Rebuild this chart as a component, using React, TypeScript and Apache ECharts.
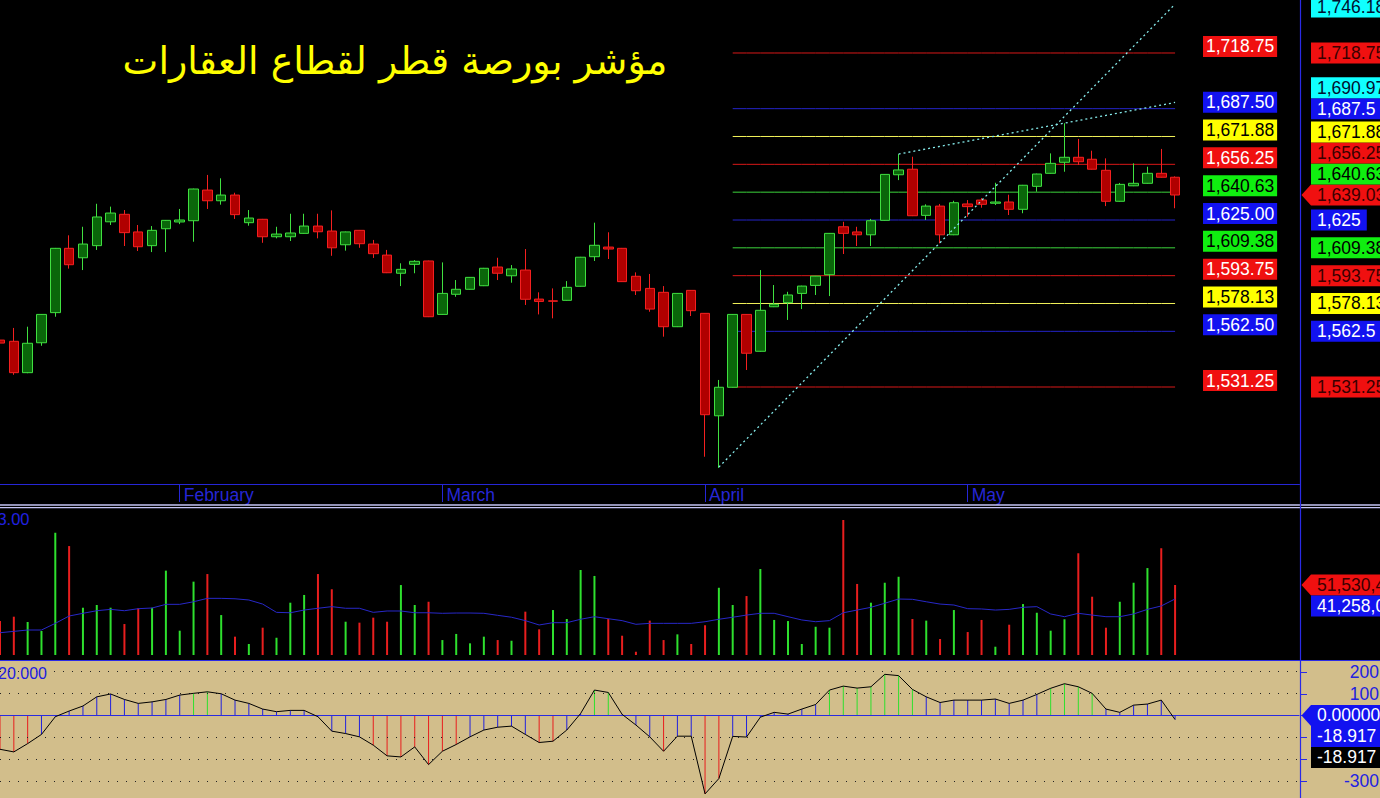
import React, { useEffect, useRef } from "react";
import * as echarts from "echarts";

// ---------------- DATA ----------------
const slotCount = 95; // trading-day slots on the time axis (last ones empty)
const categories: string[] = Array.from({ length: slotCount }, (_, i) => `D${i + 1}`);

const monthNames = ["February", "March", "April", "May"];
const monthStartIndex = [13, 32, 51, 70];

const chartTitle = "مؤشر بورصة قطر لقطاع العقارات";

// [open, close, low, high]
const candles: number[][] = [
  [1557.6, 1555.9, 1554.8, 1558.8], [1556.9, 1539.3, 1538.1, 1564.4], [1539.3, 1555.8, 1539.0, 1565.1],
  [1556.1, 1572.0, 1554.4, 1572.2], [1573.0, 1609.1, 1570.7, 1609.3], [1609.1, 1599.9, 1597.7, 1616.4],
  [1603.8, 1611.5, 1596.9, 1621.2], [1610.6, 1626.7, 1608.2, 1634.1], [1624.0, 1628.9, 1622.2, 1632.5],
  [1628.2, 1617.9, 1610.4, 1630.6], [1618.3, 1610.0, 1607.6, 1622.2], [1610.6, 1619.2, 1607.0, 1621.6],
  [1620.1, 1624.8, 1607.0, 1625.0], [1623.9, 1625.0, 1622.7, 1631.2], [1624.6, 1642.4, 1612.8, 1642.6],
  [1641.8, 1635.8, 1631.2, 1650.3], [1635.8, 1639.0, 1633.6, 1648.4], [1639.0, 1628.0, 1625.6, 1640.3],
  [1623.5, 1626.1, 1621.8, 1630.6], [1625.4, 1615.6, 1612.2, 1625.6], [1615.6, 1617.1, 1614.7, 1621.2],
  [1615.6, 1617.7, 1613.2, 1628.5], [1617.5, 1621.6, 1617.3, 1628.5], [1621.6, 1618.4, 1614.7, 1628.5],
  [1618.8, 1609.4, 1604.9, 1630.4], [1611.1, 1618.3, 1607.8, 1618.5], [1619.2, 1611.7, 1609.4, 1619.4],
  [1611.5, 1606.1, 1603.7, 1613.8], [1605.3, 1595.4, 1595.2, 1608.2], [1595.1, 1597.3, 1587.9, 1600.7],
  [1600.1, 1601.8, 1595.1, 1602.5], [1602.0, 1570.7, 1570.5, 1602.2], [1572.0, 1583.8, 1571.8, 1601.2],
  [1583.3, 1586.1, 1581.9, 1591.3], [1586.1, 1592.8, 1585.9, 1593.0], [1588.1, 1597.9, 1587.9, 1598.1],
  [1598.6, 1595.1, 1591.3, 1603.8], [1593.7, 1597.5, 1589.8, 1599.7], [1596.9, 1580.5, 1577.3, 1608.7],
  [1580.6, 1579.3, 1572.0, 1584.4], [1579.6, 1579.4, 1569.8, 1586.6], [1579.9, 1587.2, 1579.7, 1590.7],
  [1587.8, 1604.1, 1587.6, 1604.3], [1604.4, 1610.8, 1602.0, 1623.5], [1609.8, 1608.7, 1603.1, 1618.1],
  [1609.1, 1590.4, 1590.2, 1609.3], [1593.4, 1585.3, 1582.9, 1595.6], [1586.6, 1575.0, 1573.5, 1594.7],
  [1584.4, 1565.1, 1559.5, 1587.9], [1565.1, 1583.8, 1564.9, 1584.0], [1585.5, 1574.1, 1571.1, 1585.7],
  [1572.6, 1515.7, 1492.1, 1572.8], [1515.1, 1531.1, 1485.8, 1535.2], [1531.1, 1572.0, 1530.9, 1572.2],
  [1572.0, 1550.2, 1540.8, 1572.2], [1551.3, 1574.3, 1551.1, 1596.9], [1576.3, 1577.7, 1576.1, 1588.5],
  [1578.6, 1582.9, 1568.9, 1584.7], [1583.8, 1587.9, 1575.0, 1588.1], [1588.3, 1593.5, 1582.9, 1593.7],
  [1594.3, 1617.5, 1582.3, 1617.7], [1621.2, 1617.5, 1605.9, 1624.0], [1618.3, 1616.7, 1610.4, 1621.2],
  [1616.7, 1624.6, 1610.4, 1625.6], [1624.8, 1650.6, 1624.6, 1650.8], [1650.4, 1653.1, 1647.4, 1662.0],
  [1653.5, 1627.4, 1627.2, 1660.5], [1627.6, 1632.8, 1625.0, 1633.8], [1632.8, 1616.7, 1611.9, 1634.0],
  [1616.7, 1634.7, 1616.5, 1635.8], [1634.0, 1632.5, 1626.8, 1636.2], [1636.2, 1633.8, 1631.9, 1637.3],
  [1634.4, 1635.1, 1633.4, 1645.9], [1635.1, 1631.0, 1627.8, 1639.2], [1631.0, 1644.5, 1628.8, 1644.7],
  [1643.9, 1650.8, 1640.9, 1651.0], [1651.2, 1656.8, 1651.0, 1662.4], [1657.4, 1660.2, 1652.1, 1679.3],
  [1660.2, 1657.7, 1655.9, 1670.5], [1659.1, 1653.5, 1653.3, 1663.9], [1652.9, 1635.5, 1632.8, 1659.6],
  [1635.5, 1645.0, 1635.3, 1645.8], [1644.2, 1645.6, 1644.0, 1656.8], [1645.6, 1651.2, 1645.4, 1654.9],
  [1651.2, 1649.0, 1648.8, 1664.9], [1649.0, 1639.03, 1631.6, 1649.5],
];

// volume in millions of shares
const volumes: number[] = [
  25.0, 28.2, 24.3, 17.7, 90.0, 80.2, 34.8, 36.8, 34.8, 22.8,
  34.4, 34.8, 62.1, 17.9, 54.0, 59.6, 29.4, 13.5, 8.1, 20.1,
  12.7, 38.5, 44.2, 59.6, 48.4, 24.5, 23.8, 27.5, 24.5, 51.5,
  36.8, 39.2, 11.0, 15.5, 8.6, 13.5, 11.0, 10.5, 31.9, 18.9,
  33.1, 26.5, 62.6, 58.2, 26.7, 14.2, 2.4, 25.3, 11.0, 15.2,
  8.1, 21.9, 49.5, 36.8, 43.4, 63.3, 25.8, 25.0, 8.1, 20.8,
  20.1, 99.4, 52.3, 38.5, 53.2, 57.6, 26.5, 25.3, 11.8, 33.1,
  16.9, 25.8, 6.1, 22.3, 37.5, 31.1, 17.9, 26.3, 74.9, 42.9,
  20.1, 39.2, 53.2, 64.0, 78.6, 51.5304,
];
const volumeDirection: string[] = (
  "RRGGGRGGGR" + "RGGGGRGRGR" + "GGGRRGRRRG" + "GRGGGGRGRR" + "GGGGRRRRRG" +
  "RRGGRGGGGG" + "GRRGGGRGRG" + "RRGRGGGGRR" + "RGGGRR"
).split("");

const volumeAverage: number[] = [
  16.4, 17.4, 18.4, 18.4, 23.3, 28.7, 30.7, 32.6, 33.6, 32.6,
  34.1, 34.6, 37.3, 37.3, 39.2, 41.7, 41.7, 41.4, 40.5, 37.5,
  31.4, 31.1, 33.1, 34.4, 35.6, 34.4, 34.4, 31.4, 32.4, 32.4,
  31.1, 31.1, 30.7, 30.9, 30.9, 30.7, 29.2, 27.8, 25.3, 22.1,
  23.8, 23.8, 26.3, 28.2, 26.7, 25.3, 22.6, 23.3, 23.3, 23.3,
  23.3, 24.5, 26.3, 27.8, 29.4, 30.7, 30.7, 28.2, 25.8, 24.5,
  25.3, 31.1, 33.1, 35.1, 38.1, 41.2, 41.0, 39.2, 37.5, 36.8,
  34.1, 33.9, 33.1, 33.6, 35.1, 35.6, 30.2, 28.2, 30.7, 29.4,
  28.2, 28.2, 30.2, 33.6, 36.1, 41.258,
];

const oscillator: number[] = [
  -155, -167, -129, -87, -6, 20, 43, 85, 98, 73,
  55, 62, 73, 93, 101, 108, 99, 70, 55, 29,
  17, 23, 23, -6, -72, -83, -98, -136, -185, -190,
  -144, -225, -164, -133, -98, -67, -54, -49, -87, -124,
  -118, -67, 9, 116, 105, 5, -44, -98, -164, -95,
  -95, -359, -289, -96, -99, -8, 14, 6, 29, 50,
  116, 134, 125, 131, 188, 182, 119, 85, 59, 70,
  70, 70, 75, 55, 70, 96, 124, 145, 131, 101,
  29, 14, 47, 52, 70, -18.917,
];
const oscGridLevels = [200, 100, -100, -200, -300];
const oscTickLevels = [200, 100, 0, -100, -200, -300];
const oscAxisLabels = [200, 100, -300];

const fibLevels = [1718.75, 1687.5, 1671.88, 1656.25, 1640.63, 1625.0, 1609.38, 1593.75, 1578.13, 1562.5, 1531.25];
const fibColorKeys = ["red", "blue", "yellow", "red", "green", "blue", "green", "red", "yellow", "blue", "red"];
const fibStartIndex = 53;
const fibEndIndex = 85;

// [fromIndex, fromValue, toIndex, toValue]
const trendLines: number[][] = [
  [52, 1486.3, 85, 1746.18],
  [65, 1662.0, 85, 1690.97],
];

const volumeLabelText = ["51,530,412", "41,258,047"];
const volumeScaleText = "106,748,613.00";
const oscScaleText = "220.000";
const oscLastText = "-18.917 3";

// ---------------- STYLE ----------------
const FONT = '"Liberation Sans", Arial, sans-serif';
const AXIS_BLUE = "#2626d6";
const lineColors: Record<string, string> = {
  red: "#d81818", blue: "#2424c8", yellow: "#f2f25a", green: "#3cd43c", cyan: "#86ecec",
};
const boxBg: Record<string, string> = {
  red: "#f01010", blue: "#1212f0", yellow: "#ffff00", green: "#10ee10", cyan: "#10ffff",
};
const boxFgInside: Record<string, string> = {
  red: "#ffffff", blue: "#ffffff", yellow: "#000000", green: "#000000", cyan: "#000000",
};
const boxFgAxis: Record<string, string> = {
  red: "#3a0000", blue: "#ffffff", yellow: "#000000", green: "#000000", cyan: "#001030",
};

const fmt2 = (v: number) => v.toLocaleString("en-US", { minimumFractionDigits: 2, maximumFractionDigits: 2 });
const fmtTrim = (v: number) => v.toLocaleString("en-US", { maximumFractionDigits: 2 });

function buildOption(): any {
  const fibSeries = fibLevels.map((lv, k) => ({
    type: "line",
    xAxisIndex: 0,
    yAxisIndex: 0,
    z: 1,
    silent: true,
    showSymbol: false,
    symbol: "none",
    lineStyle: { color: lineColors[fibColorKeys[k]], width: 1 },
    data: categories.map((_, i) => (i >= fibStartIndex && i <= fibEndIndex ? lv : null)),
  }));

  return {
    animation: false,
    backgroundColor: "#000000",
    grid: [
      { left: -1.5, top: 0, width: 1301, height: 484 },
      { left: -1.5, top: 510, width: 1301, height: 145 },
      { left: -1.5, top: 660, width: 1301, height: 138 },
    ],
    xAxis: [
      {
        gridIndex: 0,
        type: "category",
        data: categories,
        boundaryGap: false,
        axisLine: { show: true, lineStyle: { color: AXIS_BLUE, width: 1 } },
        axisTick: {
          show: true,
          interval: (i: number) => monthStartIndex.includes(i),
          length: 18,
          lineStyle: { color: AXIS_BLUE, width: 1 },
        },
        axisLabel: {
          show: true,
          interval: (i: number) => monthStartIndex.includes(i),
          formatter: (_v: string, i: number) => monthNames[monthStartIndex.indexOf(i)] ?? "",
          align: "left",
          margin: 2,
          padding: [0, 0, 0, 4],
          color: AXIS_BLUE,
          fontSize: 17.5,
          fontFamily: FONT,
        },
        splitLine: { show: false },
      },
      { gridIndex: 1, type: "category", data: categories, boundaryGap: false, show: false },
      { gridIndex: 2, type: "category", data: categories, boundaryGap: false, show: false },
    ],
    yAxis: [
      { gridIndex: 0, type: "value", min: 1476.8, max: 1748.5, show: false, splitLine: { show: false } },
      { gridIndex: 1, type: "value", min: 0, max: 106.75, show: false, splitLine: { show: false } },
      { gridIndex: 2, type: "value", min: -377.8, max: 253.5, show: false, splitLine: { show: false } },
    ],
    series: [
      ...fibSeries,
      {
        type: "candlestick",
        xAxisIndex: 0,
        yAxisIndex: 0,
        z: 3,
        barWidth: 10,
        data: candles,
        itemStyle: {
          color: "#0a660a",
          color0: "#b00000",
          borderColor: "#40e040",
          borderColor0: "#f42020",
          borderWidth: 1,
        },
        markLine: {
          silent: true,
          symbol: ["none", "none"],
          label: { show: false },
          lineStyle: { color: lineColors.cyan, type: [2, 3], width: 1.3 },
          data: trendLines.map((t) => [
            { coord: [categories[t[0]], t[1]] },
            { coord: [categories[t[2]], t[3]] },
          ]),
        },
      },
      {
        type: "bar",
        xAxisIndex: 1,
        yAxisIndex: 1,
        barWidth: 2,
        silent: true,
        data: volumes.map((v, i) => ({
          value: v,
          itemStyle: { color: volumeDirection[i] === "G" ? "#2ee02e" : "#e81e1e" },
        })),
      },
      {
        type: "line",
        xAxisIndex: 1,
        yAxisIndex: 1,
        z: 4,
        silent: true,
        showSymbol: false,
        symbol: "none",
        lineStyle: { color: "#2828c8", width: 1 },
        data: volumeAverage,
      },
      {
        type: "bar",
        xAxisIndex: 2,
        yAxisIndex: 2,
        barWidth: 1,
        silent: true,
        data: oscillator.map((v) => ({
          value: v,
          itemStyle: { color: v > 100 ? "#2ee02e" : v < -100 ? "#e81e1e" : "#2222dd" },
        })),
        markLine: {
          silent: true,
          symbol: ["none", "none"],
          label: { show: false },
          data: [
            { yAxis: 0, lineStyle: { color: "#2a2ae0", width: 1.2, type: "solid" } },
            ...oscGridLevels.map((lv) => ({
              yAxis: lv,
              lineStyle: { color: "#222222", width: 1, type: [1, 8] },
            })),
          ],
        },
      },
      {
        type: "line",
        xAxisIndex: 2,
        yAxisIndex: 2,
        z: 5,
        silent: true,
        showSymbol: false,
        symbol: "none",
        lineStyle: { color: "#000000", width: 1 },
        data: oscillator,
      },
    ],
  };
}

function textBox(x: number, y: number, text: string, bg: string, fg: string, padX: number) {
  return {
    type: "text",
    x,
    y,
    z: 100,
    silent: true,
    style: {
      text,
      fill: fg,
      backgroundColor: bg,
      padding: [2, padX, 2, padX],
      fontSize: 17.5,
      fontFamily: FONT,
      lineHeight: 17,
      align: "left",
      verticalAlign: "middle",
    },
  };
}

function arrow(y: number, color: string) {
  return {
    type: "polygon",
    z: 100,
    silent: true,
    shape: { points: [[1301.5, y], [1311, y - 10.5], [1311, y + 10.5]] },
    style: { fill: color },
  };
}

function buildGraphics(chart: any): any[] {
  const py = (v: number) => chart.convertToPixel({ yAxisIndex: 0 }, v) as number;
  const vy = (v: number) => chart.convertToPixel({ yAxisIndex: 1 }, v) as number;
  const oy = (v: number) => chart.convertToPixel({ yAxisIndex: 2 }, v) as number;
  const g: any[] = [];
  const BOX_H = 21;

  // oscillator panel background
  g.push({ type: "rect", z: -10, silent: true, shape: { x: 0, y: 660, width: 1380, height: 138 }, style: { fill: "#d2be8b" } });
  // panel separators
  g.push({ type: "line", z: 50, silent: true, shape: { x1: 0, y1: 505, x2: 1380, y2: 505 }, style: { stroke: "#c4c4f4", lineWidth: 1.4 } });
  g.push({ type: "line", z: 50, silent: true, shape: { x1: 0, y1: 507.6, x2: 1380, y2: 507.6 }, style: { stroke: "#c4c4f4", lineWidth: 1.4 } });
  g.push({ type: "line", z: 50, silent: true, shape: { x1: 0, y1: 660.5, x2: 1380, y2: 660.5 }, style: { stroke: "#2a2ae6", lineWidth: 1.2 } });
  g.push({ type: "line", z: 50, silent: true, shape: { x1: 1300.5, y1: 0, x2: 1300.5, y2: 798 }, style: { stroke: "#2a2ae6", lineWidth: 1.2 } });

  // title
  g.push({
    type: "text", z: 100, silent: true, x: 395, y: 61,
    style: { text: chartTitle, fill: "#ffff00", fontSize: 38, fontFamily: '"DejaVu Sans", sans-serif', align: "center", verticalAlign: "middle" },
  });

  // fibonacci labels inside the chart
  fibLevels.forEach((lv, k) => {
    const key = fibColorKeys[k];
    g.push(textBox(1203, py(lv) - 6.5, fmt2(lv), boxBg[key], boxFgInside[key], 3));
  });

  // right-axis price markers (stacked upward to avoid overlap)
  const lastClose = candles[candles.length - 1][1];
  const markers: { v: number; key: string; arrow?: boolean; y?: number }[] = [
    ...fibLevels.map((lv, k) => ({ v: lv, key: fibColorKeys[k] })),
    ...trendLines.map((t) => ({ v: t[3], key: "cyan" })),
    { v: lastClose, key: "red", arrow: true },
  ];
  markers.sort((a, b) => a.v - b.v);
  let prev = Infinity;
  markers.forEach((m) => {
    const y = Math.min(py(m.v), prev - BOX_H);
    m.y = y;
    prev = y;
  });
  markers.forEach((m) => {
    const y = Math.max(m.y as number, 7);
    if (m.arrow) g.push(arrow(y, boxBg[m.key]));
    g.push(textBox(1311, y, fmtTrim(m.v), boxBg[m.key], boxFgAxis[m.key], 6));
  });

  // volume panel labels
  const lastVol = volumes[volumes.length - 1];
  const lastAvg = volumeAverage[volumeAverage.length - 1];
  const yv1 = vy(lastVol);
  const yv2 = Math.max(vy(lastAvg), yv1 + BOX_H);
  g.push(arrow(yv1, boxBg.red));
  g.push(textBox(1311, yv1, volumeLabelText[0], boxBg.red, boxFgAxis.red, 6));
  g.push(textBox(1311, yv2, volumeLabelText[1], boxBg.blue, "#ffffff", 6));
  g.push({
    type: "text", z: 100, silent: true, x: 29.5, y: 519,
    style: { text: volumeScaleText, fill: "#2020e0", fontSize: 16.5, fontFamily: FONT, align: "right", verticalAlign: "middle" },
  });

  // oscillator axis ticks and labels
  oscTickLevels.forEach((lv) => {
    const y = Math.round(oy(lv)) + 0.5;
    g.push({ type: "line", z: 60, silent: true, shape: { x1: 1300, y1: y, x2: 1307, y2: y }, style: { stroke: "#2a2ae6", lineWidth: 1 } });
  });
  oscAxisLabels.forEach((lv) => {
    g.push({
      type: "text", z: 100, silent: true, x: 1413, y: oy(lv),
      style: { text: lv.toFixed(3), fill: "#2222e0", fontSize: 17.5, fontFamily: FONT, align: "right", verticalAlign: "middle" },
    });
  });
  g.push({
    type: "text", z: 100, silent: true, x: 47, y: 673,
    style: { text: oscScaleText, fill: "#2020e0", fontSize: 16, fontFamily: FONT, align: "right", verticalAlign: "middle" },
  });
  const lastOsc = oscillator[oscillator.length - 1];
  const yo0 = oy(0);
  const yo1 = Math.max(oy(lastOsc), yo0 + BOX_H);
  const yo2 = Math.max(oy(lastOsc), yo1 + BOX_H);
  g.push(arrow(yo0, boxBg.blue));
  g.push(textBox(1311, yo0, (0).toFixed(5), boxBg.blue, "#ffffff", 6));
  g.push(textBox(1311, yo1, oscLastText, boxBg.blue, "#ffffff", 6));
  g.push(textBox(1311, yo2, oscLastText, "#000000", "#ffffff", 6));

  return g;
}

export default function App() {
  const ref = useRef<HTMLDivElement>(null);
  useEffect(() => {
    document.body.style.margin = "0";
    const chart = echarts.init(ref.current as HTMLDivElement, null, { renderer: "svg" });
    chart.setOption(buildOption());
    chart.setOption({ graphic: buildGraphics(chart) });
    return () => chart.dispose();
  }, []);
  return (
    <div
      ref={ref}
      style={{ position: "absolute", left: 0, top: 0, width: 1380, height: 798, background: "#000" }}
    />
  );
}
